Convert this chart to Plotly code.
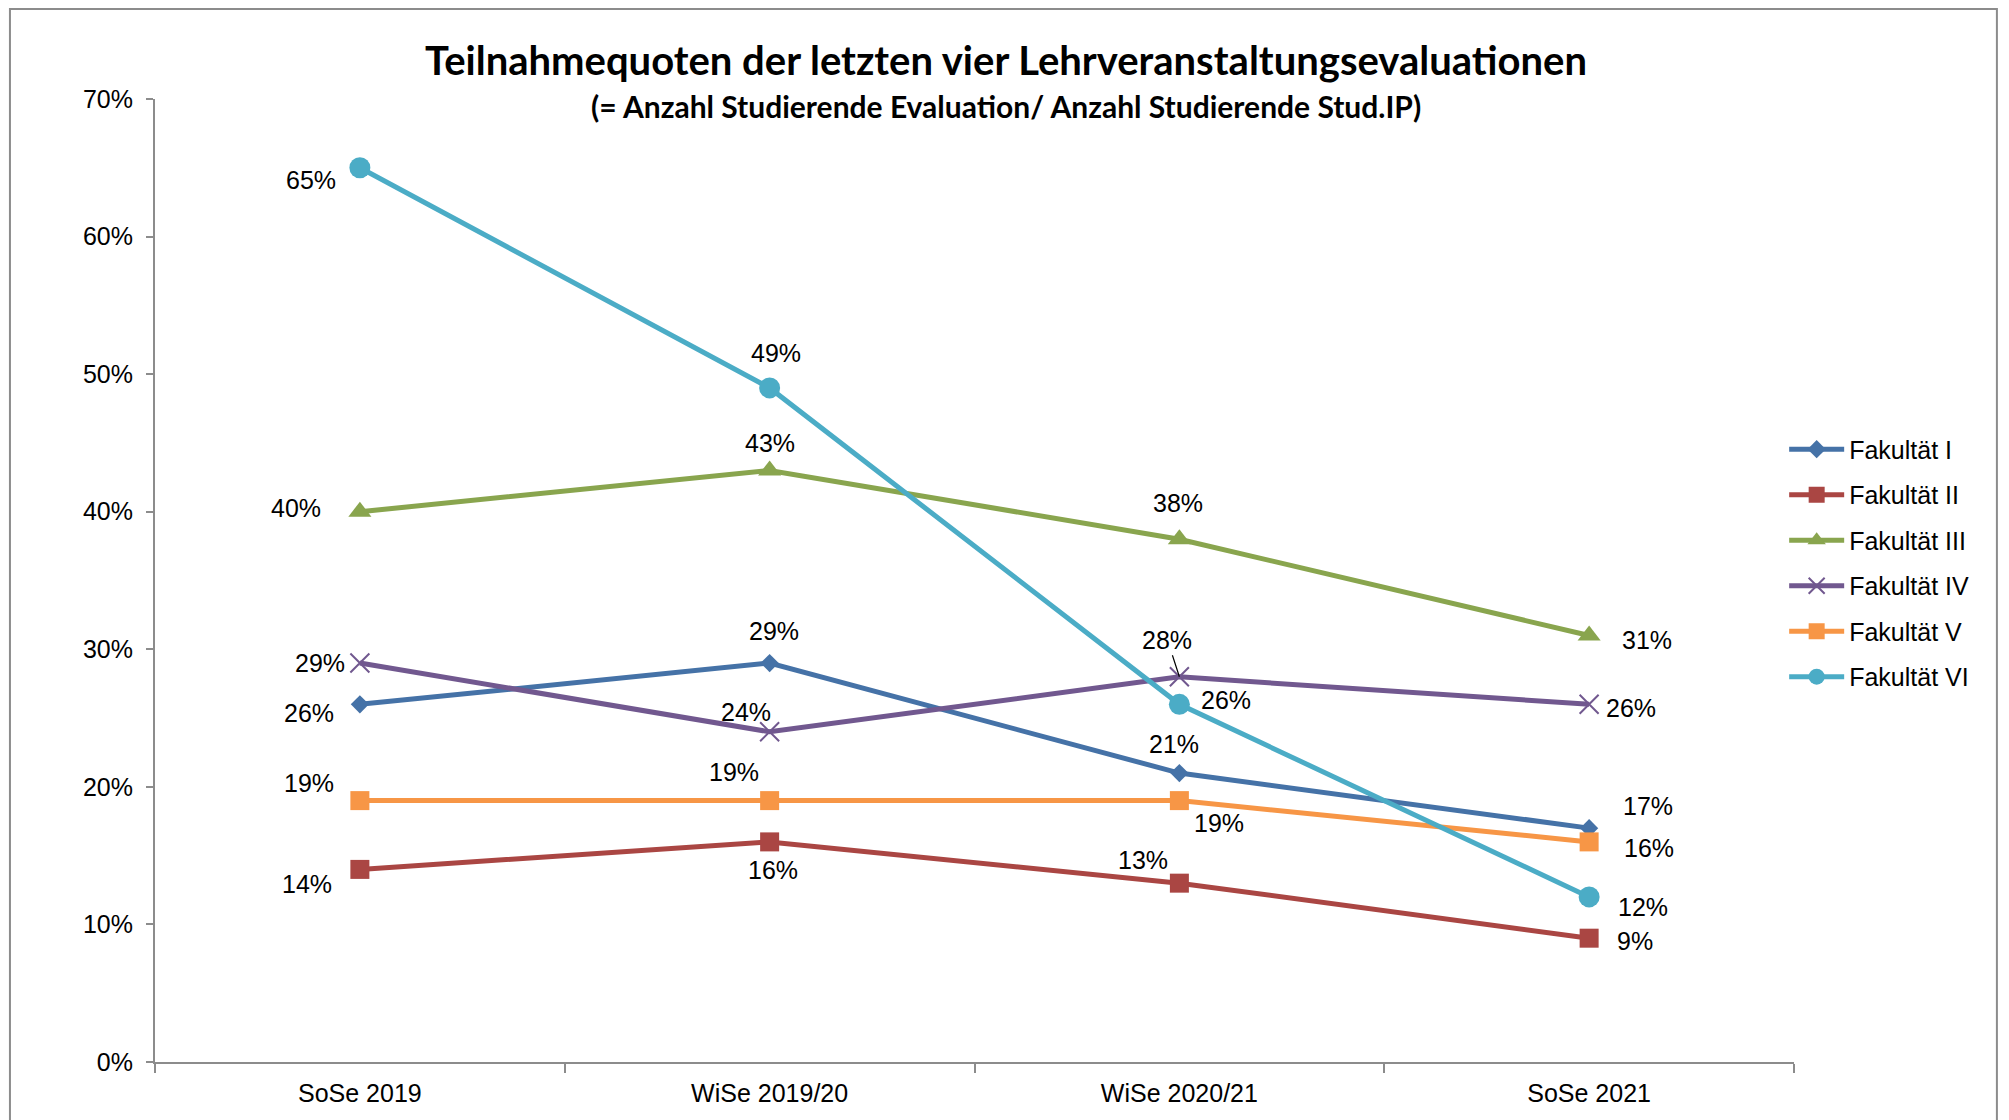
import plotly.graph_objects as go

categories = ["SoSe 2019", "WiSe 2019/20", "WiSe 2020/21", "SoSe 2021"]
series_names = ["Fakultät I", "Fakultät II", "Fakultät III", "Fakultät IV", "Fakultät V", "Fakultät VI"]
fak_1 = [26, 29, 21, 17]
fak_2 = [14, 16, 13, 9]
fak_3 = [40, 43, 38, 31]
fak_4 = [29, 24, 28, 26]
fak_5 = [19, 19, 19, 16]
fak_6 = [65, 49, 26, 12]
y_ticks = [0, 10, 20, 30, 40, 50, 60, 70]

title_text = "Teilnahmequoten der letzten vier Lehrveranstaltungsevaluationen"
subtitle_text = "(= Anzahl Studierende Evaluation/ Anzahl Studierende Stud.IP)"

# styles
colors = ["#4572A7", "#AA4643", "#89A54E", "#71588F", "#F79646", "#4BACC6"]
symbols = ["diamond", "square", "triangle-up", "x-thin", "square", "circle"]
msizes = [14, 19, 20, 19, 19, 21]

# label offsets (px) relative to each point: (dx, dy) with dy positive = up
label_offsets = [
    [(-51, -9), (4, 32), (-5, 29), (59, 22)],
    [(-53, -15), (3, -28), (-36, 23), (46, -3)],
    [(-64, 4), (0, 27), (-1, 36), (58, -4)],
    [(-40, 0), (-24, 20), (-12, 37), (42, -4)],
    [(-51, 18), (-36, 29), (40, -22), (60, -6)],
    [(-49, -12), (6, 35), (47, 4), (54, -10)],
]

data = [fak_1, fak_2, fak_3, fak_4, fak_5, fak_6]

fig = go.Figure()
for i, (name, vals) in enumerate(zip(series_names, data)):
    marker = dict(symbol=symbols[i], size=msizes[i], color=colors[i])
    if symbols[i] == "x-thin":
        marker["line"] = dict(color=colors[i], width=2)
    fig.add_trace(go.Scatter(
        x=categories, y=vals, name=name, mode="lines+markers",
        line=dict(color=colors[i], width=5),
        marker=marker, legendgroup=name,
    ))

annotations = []
for i, vals in enumerate(data):
    for j, v in enumerate(vals):
        dx, dy = label_offsets[i][j]
        leader = (i == 3 and j == 2)
        annotations.append(dict(
            x=categories[j], y=v, xref="x", yref="y",
            text=f"{v}%", showarrow=True, ax=dx, ay=-dy,
            arrowhead=0, arrowwidth=1.2 if leader else 0.1,
            arrowcolor="#000000" if leader else "rgba(0,0,0,0)",
            standoff=0, startstandoff=0,
            font=dict(family="Liberation Sans, Arial, sans-serif", size=25, color="#000000"),
        ))

annotations.append(dict(
    x=0.519, y=1.0405, xref="paper", yref="paper", showarrow=False,
    text=f"<b>{title_text}</b>", xanchor="center", yanchor="middle",
    font=dict(family="Lato, Carlito, Calibri, sans-serif", size=40, color="#000000"),
))
annotations.append(dict(
    x=0.519, y=0.9927, xref="paper", yref="paper", showarrow=False,
    text=f"<b>{subtitle_text}</b>", xanchor="center", yanchor="middle",
    font=dict(family="Lato, Carlito, Calibri, sans-serif", size=30, color="#000000"),
))

fig.update_layout(
    width=2009, height=1120,
    margin=dict(l=147, r=223, t=91, b=66),
    paper_bgcolor="white", plot_bgcolor="white",
    showlegend=True,
    legend=dict(
        x=0.994, xref="paper", y=0.660, yanchor="top", xanchor="left",
        font=dict(family="Liberation Sans, Arial, sans-serif", size=25, color="#000000"),
        tracegroupgap=10, itemwidth=55, bgcolor="rgba(0,0,0,0)",
    ),
    annotations=annotations,
    xaxis=dict(
        type="category", range=[-0.5, 3.5], showgrid=False, zeroline=False,
        showline=True, linecolor="#8c8c8c", linewidth=2,
        ticks="outside", tickson="boundaries", ticklen=9, tickcolor="#8c8c8c", tickwidth=1.5,
        tickfont=dict(family="Liberation Sans, Arial, sans-serif", size=25, color="#000000"),
        ticklabelstandoff=8,
    ),
    yaxis=dict(
        range=[0, 70], tickvals=y_ticks, ticktext=[f"{t}%" for t in y_ticks],
        showgrid=False, zeroline=False, showline=True, linecolor="#8c8c8c", linewidth=2,
        ticks="outside", ticklen=7, tickcolor="#8c8c8c", tickwidth=1.5,
        tickfont=dict(family="Liberation Sans, Arial, sans-serif", size=25, color="#000000"),
        ticklabelstandoff=8,
    ),
    shapes=[dict(
        type="rect", xref="paper", yref="paper",
        x0=-0.0885, x1=1.1238, y0=-0.08, y1=1.0935,
        line=dict(color="#8c8c8c", width=2), fillcolor="rgba(0,0,0,0)", layer="below",
    )],
)

fig.write_html("out.html")
